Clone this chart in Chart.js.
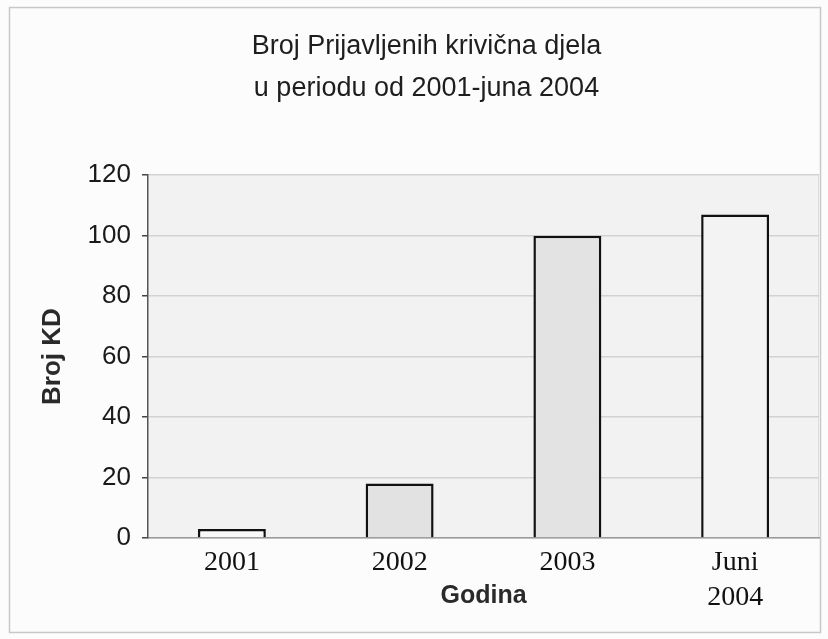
<!DOCTYPE html>
<html>
<head>
<meta charset="utf-8">
<script src="https://cdn.jsdelivr.net/npm/chart.js@4/dist/chart.umd.min.js"></script>
<style>
  html, body { margin: 0; padding: 0; background: #fcfcfc; }
  #wrap { width: 828px; height: 639px; position: relative; }
</style>
</head>
<body>
<div id="wrap"><canvas id="c" width="828" height="639"></canvas></div>
<script>
const categories = ['2001', '2002', '2003', ['Juni', '2004']];
const brojKD = [3, 18, 100, 107];
const barFills = ['#f8f8f8', '#e2e2e2', '#e3e3e3', '#f3f3f3'];
const yTicks = [0, 20, 40, 60, 80, 100, 120];
const titleLines = ['Broj Prijavljenih krivična djela', 'u periodu od 2001-juna 2004'];
const yTitle = 'Broj KD';
const xTitle = 'Godina';

const framePlugin = {
  id: 'frame',
  beforeDraw(chart) {
    const ctx = chart.ctx;
    const a = chart.chartArea;
    ctx.save();
    ctx.fillStyle = '#fcfcfc';
    ctx.fillRect(0, 0, chart.width, chart.height);
    ctx.strokeStyle = '#c8c8c8';
    ctx.lineWidth = 1.5;
    ctx.strokeRect(9.5, 7.5, 811, 625);
    ctx.fillStyle = '#f2f2f2';
    ctx.fillRect(a.left, a.top, a.right - a.left, a.bottom - a.top);
    ctx.strokeStyle = '#dddddd';
    ctx.lineWidth = 1;
    ctx.beginPath();
    ctx.moveTo(a.right - 0.5, a.top);
    ctx.lineTo(a.right - 0.5, a.bottom);
    ctx.stroke();
    ctx.restore();
  }
};

new Chart(document.getElementById('c'), {
  type: 'bar',
  data: {
    labels: categories,
    datasets: [{
      label: yTitle,
      data: brojKD,
      backgroundColor: barFills,
      borderColor: '#111',
      borderWidth: 2.5,
      barPercentage: 0.405,
      categoryPercentage: 1.0
    }]
  },
  options: {
    responsive: false,
    animation: false,
    layout: { padding: { left: 34, right: 9, top: 0, bottom: 10 } },
    plugins: {
      legend: { display: false },
      tooltip: { enabled: false },
      title: {
        display: true,
        text: titleLines,
        color: '#1e1e1e',
        font: { family: 'Liberation Sans', size: 27, weight: 'normal', lineHeight: 1.56 },
        padding: { top: 25, bottom: 66 }
      }
    },
    scales: {
      x: {
        grid: { display: false, drawTicks: false },
        border: { display: true, color: '#9a9a9a', width: 1.5 },
        ticks: {
          color: '#111',
          padding: 8,
          maxRotation: 0,
          autoSkip: false,
          font: { family: 'Liberation Serif', size: 28, lineHeight: 1.22 }
        },
        title: {
          display: true,
          text: xTitle,
          color: '#2a2a2a',
          font: { family: 'Liberation Sans', size: 25, weight: 'bold', lineHeight: 1.2 },
          padding: { top: 0, bottom: 18 }
        },
        afterFit(scale) { scale.height = 91; }
      },
      y: {
        min: 0,
        max: 120,
        afterBuildTicks(scale) { scale.ticks = yTicks.map(v => ({ value: v })); },
        grid: {
          color: '#d2d2d2',
          lineWidth: 1.5,
          tickColor: '#444',
          tickLength: 6,
          drawTicks: true
        },
        border: { display: true, color: '#555', width: 1.5 },
        ticks: {
          color: '#1a1a1a',
          padding: 11,
          font: { family: 'Liberation Sans', size: 26 }
        },
        title: {
          display: true,
          text: yTitle,
          color: '#2a2a2a',
          font: { family: 'Liberation Sans', size: 26, weight: 'bold', lineHeight: 1.2 },
          padding: { top: 3, bottom: 0 }
        },
        afterFit(scale) { scale.width = 114; }
      }
    }
  },
  plugins: [framePlugin]
});
</script>
</body>
</html>
